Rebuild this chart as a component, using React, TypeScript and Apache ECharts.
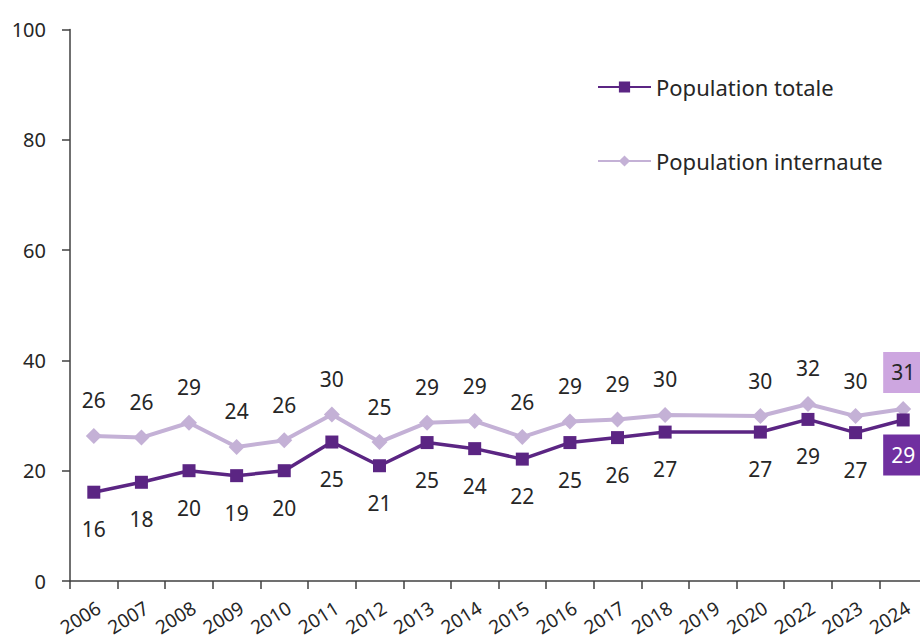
import React, { useEffect, useRef } from "react";
import * as echarts from "echarts";

const years = ["2006","2007","2008","2009","2010","2011","2012","2013","2014","2015","2016","2017","2018","2019","2020","2022","2023","2024"];
const totale: (number | null)[] = [16.1, 17.9, 20, 19.1, 20, 25.2, 20.9, 25.1, 24, 22.1, 25.1, 26, 27, null, 27, 29.3, 26.9, 29.2];
const internaute: (number | null)[] = [26.3, 26, 28.7, 24.3, 25.5, 30.2, 25.2, 28.7, 29, 26.1, 28.9, 29.3, 30.1, null, 29.9, 32.1, 29.9, 31.2];
const yTicks = { min: 0, max: 100, interval: 20 };

const FONT = "Noto Sans";
const TEXT = "#262626";
const DARK = "#5b2583";
const LIGHT = "#c4b1d6";

export default function App() {
  const ref = useRef<HTMLDivElement>(null);
  useEffect(() => {
    const chart = echarts.init(ref.current!, null, { renderer: "svg" });
    const last = years.length - 1;
    const fmt = (p: any) => (p.value == null ? "" : String(Math.round(p.value)));
    const totData = totale.map((v, i) =>
      i === last
        ? {
            value: v,
            label: {
              backgroundColor: "#7030a0",
              color: "#ffffff",
              padding: [10, 8, 10, 8],
              distance: 8,
            },
          }
        : v
    );
    const intData = internaute.map((v, i) =>
      i === last
        ? {
            value: v,
            label: {
              backgroundColor: "#cda6e0",
              color: TEXT,
              padding: [10, 8, 10, 8],
              distance: 8,
            },
          }
        : v
    );
    chart.setOption({
      animation: false,
      textStyle: { fontFamily: FONT },
      grid: {
        left: 70,
        top: 29.5,
        width: 857,
        height: 551.5,
        containLabel: false,
        outerBoundsMode: "none",
      },
      legend: {
        orient: "vertical",
        left: 592,
        top: 71,
        itemWidth: 53,
        itemHeight: 14,
        itemGap: 52,
        textStyle: { fontFamily: FONT, fontSize: 22, color: TEXT },
        data: ["Population totale", "Population internaute"],
      },
      xAxis: {
        type: "category",
        data: years,
        boundaryGap: true,
        axisLine: { lineStyle: { color: "#404040", width: 1.5 } },
        axisTick: { show: true, length: 8, lineStyle: { color: "#404040", width: 1.5 } },
        axisLabel: {
          interval: 0,
          rotate: 32,
          margin: 17,
          align: "right",
          verticalAlign: "top",
          fontFamily: FONT,
          fontSize: 19,
          color: TEXT,
        },
        splitLine: { show: false },
      },
      yAxis: {
        type: "value",
        min: yTicks.min,
        max: yTicks.max,
        interval: yTicks.interval,
        axisLine: { show: true, lineStyle: { color: "#404040", width: 1.5 } },
        axisTick: { show: true, length: 8, lineStyle: { color: "#404040", width: 1.5 } },
        axisLabel: { margin: 24, fontFamily: FONT, fontSize: 20, color: TEXT },
        splitLine: { show: false },
      },
      series: [
        {
          name: "Population totale",
          type: "line",
          data: totData,
          connectNulls: true,
          symbol: "rect",
          symbolSize: 13,
          lineStyle: { color: DARK, width: 3.5 },
          itemStyle: { color: DARK },
          label: {
            show: true,
            position: "bottom",
            distance: 20,
            formatter: fmt,
            fontFamily: FONT,
            fontSize: 21,
            color: TEXT,
          },
          z: 3,
        },
        {
          name: "Population internaute",
          type: "line",
          data: intData,
          connectNulls: true,
          symbol: "diamond",
          symbolSize: 16,
          lineStyle: { color: LIGHT, width: 4 },
          itemStyle: { color: LIGHT },
          label: {
            show: true,
            position: "top",
            distance: 17,
            formatter: fmt,
            fontFamily: FONT,
            fontSize: 21,
            color: TEXT,
          },
          z: 2,
        },
      ],
    });
    return () => chart.dispose();
  }, []);
  return <div ref={ref} style={{ width: 920, height: 641, position: "absolute", left: 0, top: 0 }} />;
}
